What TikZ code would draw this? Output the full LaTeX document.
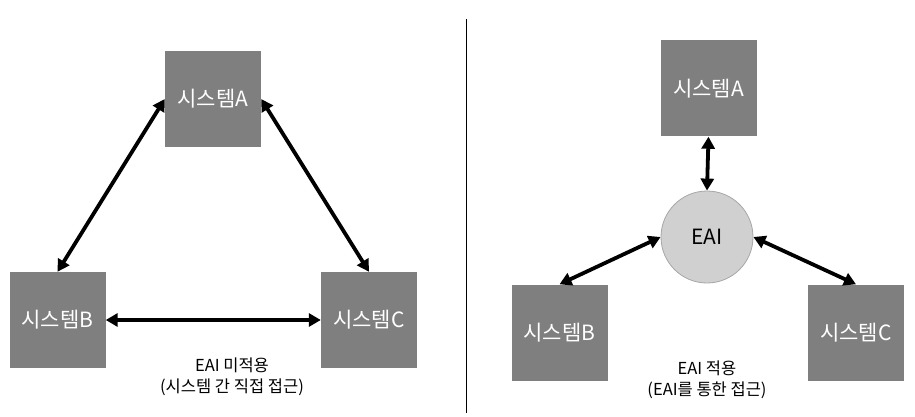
\documentclass[tikz,border=0pt]{standalone}
\usepackage{fontspec}
\setmainfont{Noto Sans CJK KR}
\usetikzlibrary{arrows.meta}
\definecolor{boxgray}{HTML}{7F7F7F}
\definecolor{circfill}{HTML}{D0D0D0}
\definecolor{circline}{HTML}{A6A6A6}
\begin{document}
\begin{tikzpicture}[x=1pt,y=-1pt,
  sysbox/.style={fill=boxgray,draw=none,minimum width=96pt,minimum height=96pt,inner sep=0pt,text=white,font=\fontsize{21}{24}\selectfont},
  hub/.style={circle,fill=circfill,draw=circline,line width=0.8pt,minimum size=92pt,inner sep=0pt,font=\fontsize{21}{24}\selectfont},
  link/.style={line width=3.8pt,{Triangle[length=12pt,width=13pt]}-{Triangle[length=12pt,width=13pt]}},
  caption/.style={align=center,font=\fontsize{16.5}{21}\selectfont}]
\useasboundingbox (0,0) rectangle (915,417);
% left
\node[sysbox] (la) at (213,99) {시스템A};
\node[sysbox] (lb) at (57.5,320) {시스템B};
\node[sysbox] (lc) at (369,320) {시스템C};
\draw[link] (la.west) -- (lb.north);
\draw[link] (la.east) -- (lc.north);
\draw[link] (lb.east) -- (lc.west);
\node[caption] (lcap) at (232,377) {EAI 미적용\\(시스템 간 직접 접근)};
% divider
\coordinate (d1) at (466,19);
\coordinate (d2) at (466,413);
\draw[line width=1pt] (d1) -- (d2);
% right
\node[sysbox] (ra) at (708.5,88.5) {시스템A};
\node[hub] (eai) at (707,237) {EAI};
\node[sysbox] (rb) at (559.5,332.5) {시스템B};
\node[sysbox] (rc) at (856,332.5) {시스템C};
\draw[link] (ra.south) -- (eai.north);
\draw[link] (eai.west) -- (rb.north);
\draw[link] (eai.east) -- (rc.north);
\node[caption] (rcap) at (707,380) {EAI 적용\\(EAI를 통한 접근)};
\end{tikzpicture}
\end{document}
